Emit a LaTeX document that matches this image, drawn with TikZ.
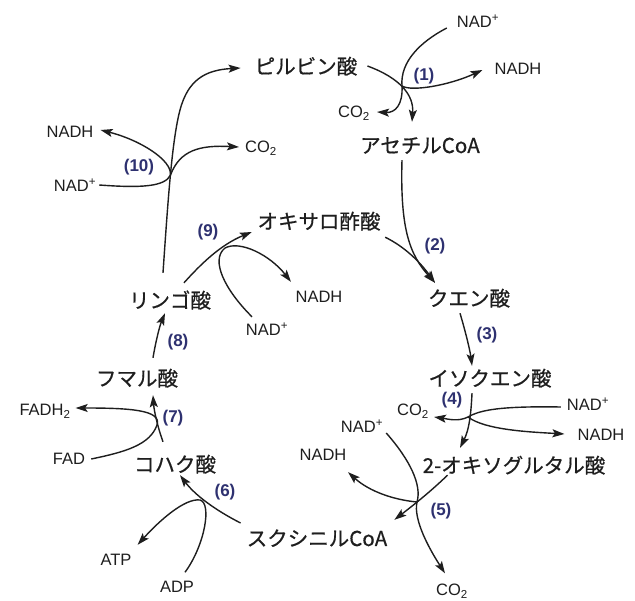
\documentclass[tikz,border=0pt]{standalone}
\usepackage{fontspec}
\setmainfont{Liberation Sans}
\newfontfamily\jp{Noto Sans CJK JP}[FakeBold=0.6]
\usetikzlibrary{arrows.meta}
\definecolor{navy}{HTML}{2E3170}
\definecolor{ink}{HTML}{1E1E1E}
\begin{document}
\begin{tikzpicture}[x=1pt,y=-1pt,
  met/.style={font=\jp\fontsize{20.5}{22}\selectfont, text=ink, inner sep=0pt, text height=18pt, text depth=2pt},
  sm/.style={font=\fontsize{16.5}{18}\selectfont, text=ink, inner sep=0pt, text height=13pt, text depth=2pt},
  num/.style={font=\bfseries\fontsize{17}{19}\selectfont, text=navy, inner sep=0pt},
  ln/.style={draw=ink, line width=1.4pt},
  arr/.style={ln, -{Stealth[length=12pt,width=8pt,inset=2.5pt]}}]
\useasboundingbox[fill=white] (0,0) rectangle (635,601);

% metabolites
\node[met] (pyr) at (306,66) {ピルビン酸};
\node[met] (aca) at (420,145) {アセチルCoA};
\node[met] (oxa) at (319,221) {オキサロ酢酸};
\node[met] (cit) at (469,298) {クエン酸};
\node[met] (iso) at (490,378) {イソクエン酸};
\node[met] (akg) at (514,465) {2-オキソグルタル酸};
\node[met] (suc) at (317,538) {スクシニルCoA};
\node[met] (sa) at (175,464) {コハク酸};
\node[met] (fum) at (137,378) {フマル酸};
\node[met] (mal) at (170,300) {リンゴ酸};

% cofactors
\node[sm] (nad1) at (478,22) {NAD\textsuperscript{+}};
\node[sm] (nadh1) at (518,69) {NADH};
\node[sm] (co2a) at (354,112) {CO\textsubscript{2}};
\node[sm] (co2b) at (413,410) {CO\textsubscript{2}};
\node[sm] (nad4) at (588,405) {NAD\textsuperscript{+}};
\node[sm] (nadh4) at (601,435) {NADH};
\node[sm] (nad5) at (362,427) {NAD\textsuperscript{+}};
\node[sm] (nadh5) at (323,455) {NADH};
\node[sm] (co2c) at (452,590) {CO\textsubscript{2}};
\node[sm] (adp) at (177,587) {ADP};
\node[sm] (atp) at (116,560) {ATP};
\node[sm] (fad) at (69,459) {FAD};
\node[sm] (fadh) at (45,410) {FADH\textsubscript{2}};
\node[sm] (nadh9) at (319,297) {NADH};
\node[sm] (nad9) at (267,330) {NAD\textsuperscript{+}};
\node[sm] (nad10) at (75,186) {NAD\textsuperscript{+}};
\node[sm] (nadh10) at (70,132) {NADH};
\node[sm] (co2d) at (261,147) {CO\textsubscript{2}};

% step numbers
\node[num] (l1) at (424,76) {(1)};
\node[num] (l2) at (435,246) {(2)};
\node[num] (l3) at (487,335) {(3)};
\node[num] (l4) at (452,400) {(4)};
\node[num] (l5) at (441,511) {(5)};
\node[num] (l6) at (225,492) {(6)};
\node[num] (l7) at (173,418) {(7)};
\node[num] (l8) at (178,342) {(8)};
\node[num] (l9) at (208,232) {(9)};
\node[num] (l10) at (139,167) {(10)};

% junctions
\coordinate (j1) at (402,86);
\coordinate (j4) at (468,417);
\coordinate (j5) at (417,502);
\coordinate (j6) at (200,500);
\coordinate (j7) at (157,425);
\coordinate (j9) at (225,248);
\coordinate (j10) at (170.5,175);

% (1)
\draw[arr] ([xshift=10pt]pyr.east) .. controls (400,78) and (414,95) .. ([xshift=-8pt,yshift=13pt]aca.north);
\draw[ln] ([xshift=-10pt,yshift=-6pt]nad1.west) .. controls (420,42) and (400,62) .. (j1);
\draw[arr] (j1) .. controls (403,105) and (395,113) .. ([xshift=7pt]co2a.east);
\draw[arr] (j1) .. controls (412,92) and (450,85) .. ([xshift=-12pt,yshift=-1pt]nadh1.west);

% (2)
\draw[arr] ([xshift=-18pt,yshift=-5pt]aca.south) .. controls (400,230) and (410,255) .. ([xshift=-34pt,yshift=5pt]cit.north);
\draw[arr] ([xshift=4.5pt,yshift=-6pt]oxa.south east) .. controls (405,247) and (420,262) .. ([xshift=-34pt,yshift=5pt]cit.north);

% (3)
\draw[arr] ([xshift=-9pt,yshift=-5pt]cit.south) .. controls (465,330) and (470,350) .. ([xshift=-18pt,yshift=2pt]iso.north);

% (4)
\draw[arr] ([xshift=-18pt,yshift=-5pt]iso.south) .. controls (471,415) and (469,430) .. ([xshift=-54pt,yshift=7pt]akg.north);
\draw[ln] ([xshift=-6pt,yshift=-2pt]nad4.west) .. controls (500,406) and (480,410) .. (j4);
\draw[arr] (j4) .. controls (458,422) and (448,419) .. ([xshift=5pt,yshift=-7pt]co2b.east);
\draw[arr] (j4) .. controls (485,430) and (530,432) .. ([xshift=-13pt,yshift=1pt]nadh4.west);

% (5)
\draw[arr] ([xshift=25pt]akg.south west) .. controls (432,490) and (420,500) .. ([xshift=7pt,yshift=8pt]suc.north east);
\draw[ln] ([xshift=3pt,yshift=-6pt]nad5.east) .. controls (410,460) and (422,485) .. (j5);
\draw[arr] (j5) .. controls (413,520) and (430,550) .. ([xshift=-7pt,yshift=9pt]co2c.north);
\draw[arr] (j5) .. controls (395,500) and (370,492) .. ([xshift=1.5pt,yshift=-9.5pt]nadh5.south east);

% (6)
\draw[arr] ([xshift=-6pt,yshift=15pt]suc.west) .. controls (215,510) and (195,495) .. ([xshift=5pt,yshift=-1pt]sa.south);
\draw[ln] ([xshift=8pt,yshift=7pt]adp.north) .. controls (205,545) and (212,503) .. (j6);
\draw[arr] (j6) .. controls (185,498) and (160,520) .. ([xshift=6pt,yshift=7.5pt]atp.north east);

% (7)
\draw[arr] ([xshift=-12pt,yshift=12pt]sa.north) .. controls (157,425) and (154,410) .. ([xshift=16pt,yshift=-7pt]fum.south);
\draw[ln] ([xshift=6pt]fad.east) .. controls (125,452) and (150,445) .. (j7);
\draw[arr] (j7) .. controls (162,410) and (130,408) .. ([xshift=5pt,yshift=2pt]fadh.east);

% (8)
\draw[arr] ([xshift=16pt,yshift=10pt]fum.north) .. controls (156,340) and (160,325) .. ([xshift=-5pt,yshift=-3pt]mal.south);

% (9)
\draw[arr] ([xshift=14pt,yshift=7pt]mal.north) .. controls (200,265) and (220,245) .. ([xshift=-5.5pt,yshift=-11pt]oxa.west);
\draw[ln] ([xshift=-15pt,yshift=5.5pt]nad9.north) .. controls (225,290) and (210,260) .. (j9);
\draw[arr] (j9) .. controls (240,240) and (270,255) .. ([xshift=-4.5pt,yshift=7.5pt]nadh9.north west);

% (10)
\draw[arr] ([xshift=-7pt,yshift=17pt]mal.north) .. controls (168,200) and (172,140) .. (180,110) .. controls (188,80) and (205,70) .. ([xshift=-14pt,yshift=-2pt]pyr.west);
\draw[ln] ([xshift=3pt,yshift=1pt]nad10.east) .. controls (140,188) and (165,187) .. (j10);
\draw[arr] (j10) .. controls (172,160) and (140,140) .. ([xshift=7pt,yshift=2pt]nadh10.east);
\draw[arr] (j10) .. controls (180,150) and (200,145) .. ([xshift=-6pt]co2d.west);
\end{tikzpicture}
\end{document}
